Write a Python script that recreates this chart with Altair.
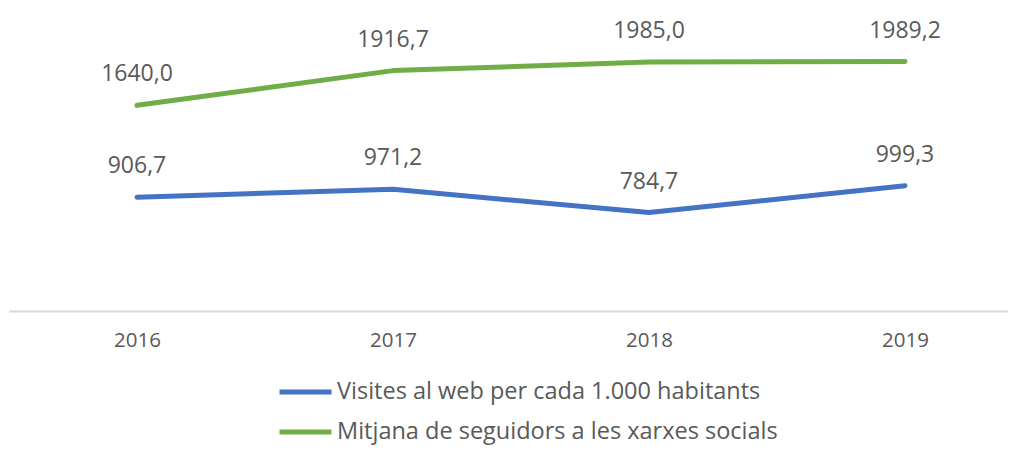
import altair as alt
import pandas as pd

years = [2016, 2017, 2018, 2019]
series_names = ["Visites al web per cada 1.000 habitants",
                "Mitjana de seguidors a les xarxes socials"]
visites = [906.7, 971.2, 784.7, 999.3]
seguidors = [1640.0, 1916.7, 1985.0, 1989.2]
colors = ["#4472C4", "#70AD47"]

rows = []
for y, v in zip(years, visites):
    rows.append({"year": y, "serie": series_names[0], "value": v})
for y, v in zip(years, seguidors):
    rows.append({"year": y, "serie": series_names[1], "value": v})
df = pd.DataFrame(rows)

FONT = "Open Sans"
GRAY = "#595959"

x = alt.X("year:Q",
          scale=alt.Scale(domain=[2015.5, 2015.5 + 999 / 256], nice=False, zero=False),
          axis=alt.Axis(values=years, format="d", title=None, grid=False, ticks=False,
                        domainColor="#D9D9D9", domainWidth=2,
                        labelFont=FONT, labelFontSize=20.5, labelColor=GRAY,
                        labelPadding=19))
y = alt.Y("value:Q", scale=alt.Scale(domain=[0, 2400], nice=False), axis=None)
color = alt.Color("serie:N",
                  scale=alt.Scale(domain=series_names, range=colors),
                  sort=series_names,
                  legend=alt.Legend(title=None, orient="none", legendX=268, legendY=364,
                                    direction="vertical", symbolType="stroke",
                                    symbolSize=2704, symbolStrokeWidth=5,
                                    labelFont=FONT, labelFontSize=23.5, labelColor=GRAY,
                                    labelOffset=3, clipHeight=36, rowPadding=4,
                                    padding=0, labelLimit=800))

base = alt.Chart(df)
lines = base.mark_line(strokeWidth=5, strokeCap="round", strokeJoin="round").encode(
    x=x, y=y, color=color)
labels = base.mark_text(fontSize=23, font=FONT, color=GRAY, dy=-24,
                        baseline="alphabetic", align="center").transform_calculate(
    label="replace(format(datum.value, '.1f'), '.', ',')"
).encode(x=x, y=y, text="label:N")

chart = alt.layer(lines, labels).properties(
    width=999, height=301,
    autosize=alt.AutoSizeParams(type="none"),
    padding={"left": 1, "top": 2, "right": 0, "bottom": 136},
    background="white",
).configure_view(stroke=None, strokeWidth=0)

chart.save("out.html", embed_options={"renderer": "svg", "actions": False})
